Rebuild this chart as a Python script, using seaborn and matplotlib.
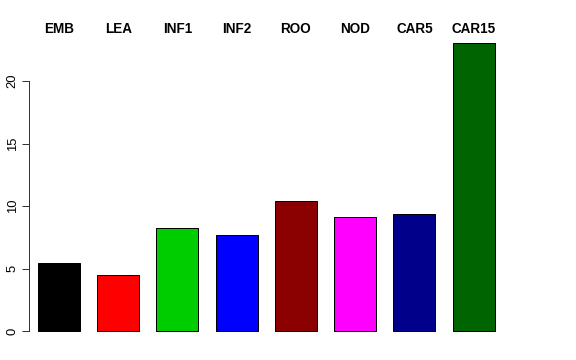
import matplotlib
matplotlib.use('Agg')
import matplotlib.pyplot as plt
import matplotlib.transforms as mtransforms
import seaborn as sns

samples = ['EMB', 'LEA', 'INF1', 'INF2', 'ROO', 'NOD', 'CAR5', 'CAR15']
values = [5.42, 4.51, 8.27, 7.65, 10.43, 9.15, 9.33, 23.04]
colors = ['#000000', '#FF0000', '#00CD00', '#0000FF', '#8B0000', '#FF00FF', '#00008B', '#006400']
yticks = [0, 5, 10, 15, 20]

sns.set_style('white')
plt.rcParams['font.family'] = ['Liberation Sans', 'DejaVu Sans']
plt.rcParams['text.color'] = 'black'
plt.rcParams['ytick.color'] = 'black'

# 576x360 px at 72 dpi, like the R device
fig = plt.figure(figsize=(8, 5), dpi=72)
W, H = 576, 360
left, right, top, bottom = 28.7, 560, 31.5, 342.5
ax = fig.add_axes([left / W, 1 - bottom / H, (right - left) / W, (bottom - top) / H])

sns.barplot(x=samples, y=values, hue=samples, palette=colors, legend=False,
            width=0.709, edgecolor='black', linewidth=1, saturation=1, ax=ax)

ax.set_ylim(-0.92, 23.96)
ax.set_xlim(-0.511, 8.457)

for s in ['top', 'right', 'bottom']:
    ax.spines[s].set_visible(False)
ax.spines['left'].set_bounds(0, 20)
ax.spines['left'].set_color('#333333')
ax.spines['left'].set_linewidth(1)

ax.set_yticks(yticks)
ax.set_yticklabels([str(t) for t in yticks], rotation=90, va='center', fontsize=13)
ax.tick_params(axis='y', direction='out', length=7, width=1, color='#333333', pad=3, left=True)
ax.set_xticks([])
ax.set_xlabel('')
ax.set_ylabel('')

# sample names above the bars
trans = mtransforms.blended_transform_factory(ax.transData, fig.transFigure)
for i, name in enumerate(samples):
    ax.text(i, 1 - 29 / H, name, transform=trans, ha='center', va='center',
            fontsize=13.5, fontweight='bold', color='black')

fig.savefig('out.png', dpi=72)
